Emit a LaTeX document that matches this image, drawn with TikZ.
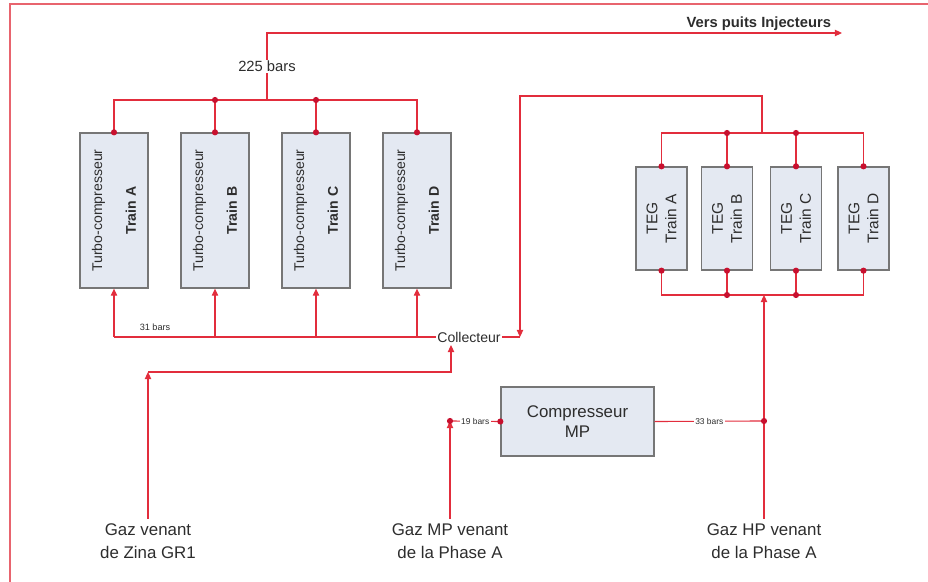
\documentclass[tikz,border=0pt]{standalone}
\usepackage{fontspec}
\setmainfont{Liberation Sans}
\usetikzlibrary{arrows.meta}

\definecolor{pipered}{RGB}{226,45,60}
\definecolor{jointred}{RGB}{200,16,46}
\definecolor{framered}{RGB}{232,100,110}
\definecolor{boxblue}{RGB}{228,233,242}
\definecolor{boxgray}{RGB}{118,118,118}
\definecolor{inkgray}{RGB}{45,45,45}

\begin{document}
\begin{tikzpicture}[x=0.025cm, y=-0.025cm, text=inkgray,
  pipe/.style={draw=pipered, line width=0.8pt},
  flow/.style={pipe, -{Triangle[length=5pt,width=4.5pt]}},
  unit/.style={draw=boxgray, fill=boxblue, line width=0.9pt, align=center},
  turbo/.style={unit, rotate=90, minimum width=3.875cm, minimum height=1.7cm,
    font=\fontsize{10}{12}\selectfont},
  teg/.style={unit, rotate=90, minimum width=2.575cm, minimum height=1.275cm,
    font=\fontsize{11}{13.5}\selectfont},
  source/.style={align=center, font=\fontsize{12}{16}\selectfont},
  bars/.style={fill=white, inner sep=1pt, font=\fontsize{6}{7}\selectfont}]

\useasboundingbox (0,0) rectangle (928,582);

% Frame
\draw[framered, line width=0.8pt] (10,582) -- (10,4) -- (928,4);

% Turbo-compressors
\node[turbo] (tA) at (114,210.5) {Turbo-compresseur\\[12pt]\textbf{Train A}};
\node[turbo] (tB) at (215,210.5) {Turbo-compresseur\\[12pt]\textbf{Train B}};
\node[turbo] (tC) at (316,210.5) {Turbo-compresseur\\[12pt]\textbf{Train C}};
\node[turbo] (tD) at (417,210.5) {Turbo-compresseur\\[12pt]\textbf{Train D}};

% TEG units
\node[teg] (gA) at (661.5,218.5) {TEG\\Train A};
\node[teg] (gB) at (727,218.5) {TEG\\Train B};
\node[teg] (gC) at (796,218.5) {TEG\\Train C};
\node[teg] (gD) at (863.5,218.5) {TEG\\Train D};

% MP compressor
\node[unit, minimum width=3.825cm, minimum height=1.725cm,
  font=\fontsize{12}{14}\selectfont] (mp) at (577.5,421.5) {Compresseur\\MP};

% Gas sources
\node[source] (zina) at (148,541) {Gaz venant\\de Zina GR1};
\node[source] (gmp) at (450,541) {Gaz MP venant\\de la Phase A};
\node[source] (ghp) at (764,541) {Gaz HP venant\\de la Phase A};

% Collector
\node[font=\fontsize{10}{12}\selectfont, inner sep=1pt] (coll) at (469,337) {Collecteur};

% Points
\coordinate (hp) at (267,100);
\coordinate (out) at (842,33);
\coordinate (tt) at (762,133);
\coordinate (ret) at (520,96);
\coordinate (lp) at (520,337);
\coordinate (tb) at (764,295);
\coordinate (hpj) at (764,421);
\coordinate (zj) at (148,372);
\coordinate (cin) at (451,345);
\coordinate (mj) at (450,421);

% 225 bars header
\draw[pipe] (tA.east) -- (tA.east |- hp) -- (tD.east |- hp) -- (tD.east);
\draw[pipe] (tB.east) -- (tB.east |- hp);
\draw[pipe] (tC.east) -- (tC.east |- hp);
\draw[flow] (hp) -- node[fill=white, inner sep=1pt, font=\fontsize{10.5}{12}\selectfont] {225 bars}
  (hp |- out) -- (out);
\node[anchor=south east, font=\bfseries\fontsize{10.5}{12}\selectfont] (vers) at (836,36)
  {Vers puits Injecteurs};

% 31 bars header
\draw[pipe] (coll.west) -- (tA.west |- coll);
\draw[flow] (tA.west |- coll) -- (tA.west);
\draw[flow] (tB.west |- coll) -- (tB.west);
\draw[flow] (tC.west |- coll) -- (tC.west);
\draw[flow] (tD.west |- coll) -- (tD.west);
\node[anchor=south, font=\fontsize{6.5}{7}\selectfont] at (155,336) {31 bars};

% TEG headers
\draw[pipe] (gA.east) -- (gA.east |- tt) -- (gD.east |- tt) -- (gD.east);
\draw[pipe] (gB.east) -- (gB.east |- tt);
\draw[pipe] (gC.east) -- (gC.east |- tt);
\draw[flow] (tt) |- (ret) -- (lp);
\draw[pipe] (coll.east) -- (lp);
\draw[pipe] (gA.west) -- (gA.west |- tb) -- (gD.west |- tb) -- (gD.west);
\draw[pipe] (gB.west) -- (gB.west |- tb);
\draw[pipe] (gC.west) -- (gC.west |- tb);

% Feed lines
\draw[flow] (ghp.north) -- (tb);
\draw[pipe] (mp.east) -- node[bars] {33 bars} (hpj);
\draw[flow] (zina.north) -- (zj);
\draw[flow] (zj) -| (cin);
\draw[flow] (gmp.north) -- (mj);
\draw[pipe] (mj) -- node[bars] {19 bars} (mp.west);

% Junctions
\foreach \p in {tA.east, tB.east, tC.east, tD.east, tB.east |- hp, tC.east |- hp,
    gA.east, gB.east, gC.east, gD.east, gB.east |- tt, gC.east |- tt,
    gA.west, gB.west, gC.west, gD.west, gB.west |- tb, gC.west |- tb,
    mp.west, mj, hpj}
  \fill[jointred] (\p) circle (2.2pt);

\end{tikzpicture}
\end{document}
